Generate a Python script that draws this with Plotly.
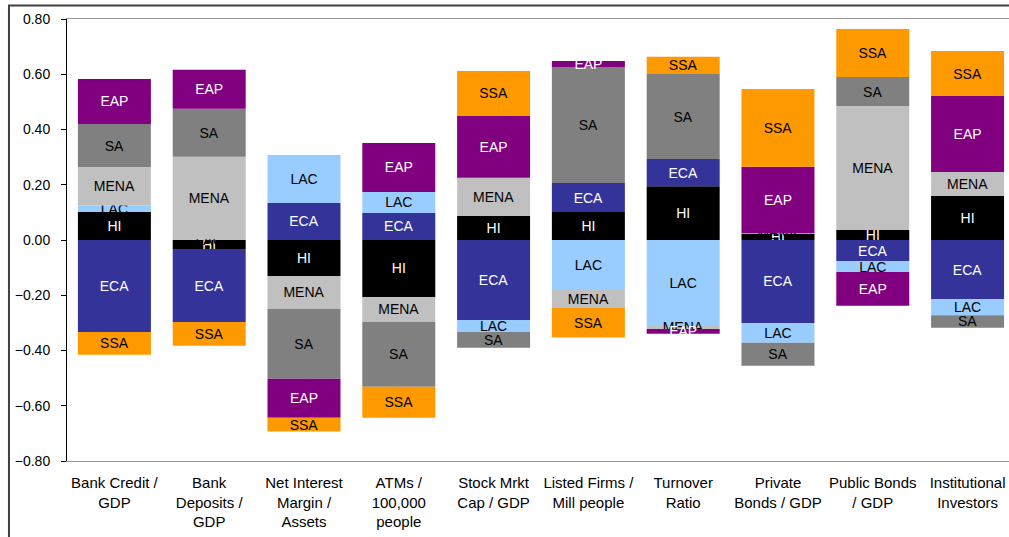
import plotly.graph_objects as go

categories = ["Bank Credit /<br>GDP", "Bank<br>Deposits /<br>GDP", "Net Interest<br>Margin /<br>Assets",
              "ATMs /<br>100,000<br>people", "Stock Mrkt<br>Cap / GDP", "Listed Firms /<br>Mill people",
              "Turnover<br>Ratio", "Private<br>Bonds / GDP", "Public Bonds<br>/ GDP", "Institutional<br>Investors"]

series_names = ["HI", "ECA", "LAC", "MENA", "SA", "EAP", "SSA"]

HI   = [0.101, -0.033, -0.130, -0.206, 0.087, 0.101, 0.195, 0.022, 0.036, 0.159]
ECA  = [-0.333, -0.264, 0.134, 0.098, -0.290, 0.105, 0.098, -0.300, -0.076, -0.214]
LAC  = [0.024, 0.003, 0.174, 0.076, -0.043, -0.181, -0.311, -0.072, -0.040, -0.058]
MENA = [0.139, 0.298, -0.119, -0.090, 0.138, -0.065, -0.011, 0.002, 0.449, 0.087]
SA   = [0.156, 0.174, -0.253, -0.235, -0.057, 0.420, 0.308, -0.083, 0.105, -0.046]
EAP  = [0.163, 0.141, -0.141, 0.177, 0.224, 0.022, -0.017, 0.241, -0.122, 0.275]
SSA  = [-0.082, -0.086, -0.050, -0.112, 0.163, -0.107, 0.062, 0.282, 0.174, 0.163]

series_values = [HI, ECA, LAC, MENA, SA, EAP, SSA]
colors = ["#000000", "#333399", "#99CCFF", "#C0C0C0", "#808080", "#800080", "#FF9900"]
text_colors = ["white", "white", "black", "black", "black", "white", "black"]

y_ticks = [-0.8, -0.6, -0.4, -0.2, 0.0, 0.2, 0.4, 0.6, 0.8]

FONT = "Liberation Sans, Arial, sans-serif"

fig = go.Figure()
for name, vals, col, tcol in zip(series_names, series_values, colors, text_colors):
    fig.add_trace(go.Bar(
        name=name, x=categories, y=vals,
        marker=dict(color=col, line=dict(width=0)),
        text=[name] * len(vals),
        textposition="inside", insidetextanchor="middle", textangle=0,
        insidetextfont=dict(color=tcol, size=14, family=FONT),
        hoverinfo="skip",
    ))

xr = [-0.5, 9.437]
fig.update_layout(
    width=1009, height=537,
    margin=dict(l=67, r=0, t=19, b=76, autoexpand=False),
    barmode="relative", bargap=0.23,
    showlegend=False,
    plot_bgcolor="white", paper_bgcolor="white",
    font=dict(family=FONT, size=14, color="black"),
    uniformtext=dict(minsize=14, mode="show"),
    xaxis=dict(range=xr, showgrid=False, showline=True, mirror=True, linecolor="#999999",
               linewidth=1, ticks="", tickfont=dict(size=15), ticklabelstandoff=8,
               automargin=False),
    xaxis2=dict(overlaying="x", anchor="free", position=0.5, range=xr, type="linear",
                showgrid=False, showline=True, linecolor="black", linewidth=1,
                ticks="outside", ticklen=4, tickcolor="black", tickwidth=1,
                tickvals=[i - 0.5 for i in range(11)], showticklabels=False, zeroline=False,
                automargin=False),
    yaxis=dict(range=[-0.8, 0.8], tickvals=y_ticks, tickformat=".2f", showgrid=False,
               zeroline=False, showline=True, linecolor="black", linewidth=1,
               ticks="outside", ticklen=5, tickcolor="black", tickfont=dict(size=14),
               ticklabelstandoff=8, automargin=False),
)

fig.add_shape(type="rect", xref="paper", yref="paper",
              x0=-0.0616, x1=1.2, y0=-0.4, y1=1.0305,
              line=dict(color="#404040", width=2), fillcolor="rgba(0,0,0,0)", layer="above")

fig.write_html("out.html", config={"displayModeBar": False},
               post_script="document.body.style.margin='0';")
